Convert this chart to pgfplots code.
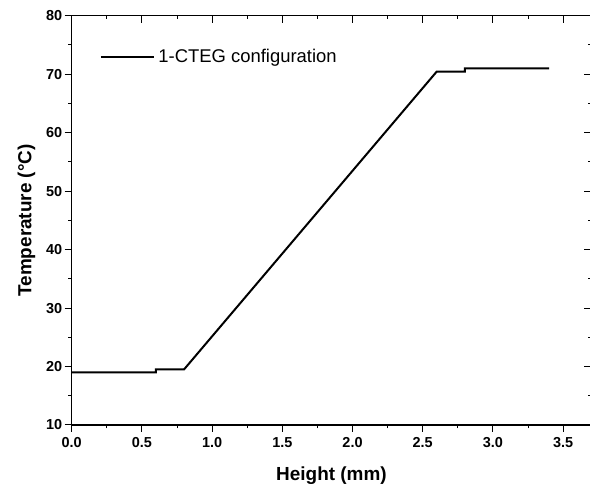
\documentclass[border=0pt]{standalone}
\usepackage{pgfplots}
\pgfplotsset{compat=1.18}
\usepackage{fontspec}
\setmainfont{Liberation Sans}
\pgfplotsset{
  common/.style={
    scale only axis,
    width=519.5bp, height=409.3bp,
    xmin=0, xmax=3.7, ymin=10, ymax=80,
    xtick={0,0.5,...,3.5}, ytick={10,20,...,80},
    minor x tick num=1, minor y tick num=1,
    tick style={black, line width=1pt},
    major tick length=7bp, minor tick length=3.5bp,
    axis line style={line width=1.2pt},
  }
}
\begin{document}
\begin{tikzpicture}
\begin{axis}[
  common,
  tick align=outside,
  xtick pos=left, ytick pos=left,
  xticklabel style={/pgf/number format/fixed,/pgf/number format/fixed zerofill,/pgf/number format/precision=1, yshift=-2bp},
  yticklabel style={xshift=1bp},
  /pgf/number format/assume math mode=true,
  ticklabel style={font=\fontsize{14.5}{16}\selectfont\bfseries},
  xlabel={Height (mm)}, ylabel={Temperature (\textdegree C)},
  label style={font=\fontsize{19}{22}\selectfont\bfseries},
  xlabel style={yshift=-12bp},
  ylabel style={yshift=4bp},
  legend style={draw=none, fill=none, at={(28bp,368bp)}, anchor=west, inner sep=0pt, nodes={inner xsep=3.5bp}, font=\fontsize{18.5}{21}\selectfont},
  legend cell align=left,
  legend image code/.code={\draw[#1] (0bp,0bp) -- (53bp,0bp);},
]
\addplot[black, line width=2pt] coordinates {
(0,19.0) (0.6,19.0) (0.6,19.5) (0.8,19.5) (2.6,70.45) (2.8,70.45) (2.8,71.0) (3.4,71.0)
};
\addlegendentry{1-CTEG configuration}
\end{axis}
\begin{axis}[
  common,
  tick align=inside,
  xtick pos=right, ytick pos=right,
  xticklabels={}, yticklabels={},
]
\end{axis}
\pgfresetboundingbox
\path ([shift={(-71.7bp,-67bp)}]current axis.south west) rectangle ([shift={(-1.2bp,15.7bp)}]current axis.north east);
\end{tikzpicture}
\end{document}
